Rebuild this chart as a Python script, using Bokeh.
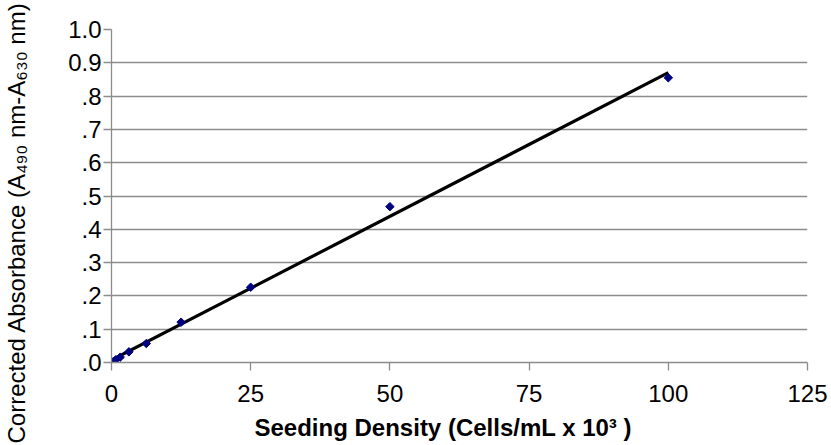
import numpy as np
from bokeh.plotting import figure
from bokeh.models import Range1d, FixedTicker, Title
from bokeh.embed import file_html
from bokeh.resources import INLINE

# Data
seeding_density = [0, 0.78, 1.56, 3.125, 6.25, 12.5, 25, 50, 100]
absorbance = [0.002, 0.008, 0.016, 0.032, 0.057, 0.121, 0.226, 0.468, 0.855]

x_ticks = [0, 25, 50, 75, 100, 125]
y_ticks = [0, 0.1, 0.2, 0.3, 0.4, 0.5, 0.6, 0.7, 0.8, 0.9, 1]
y_tick_labels = [".0", ".1", ".2", ".3", ".4", ".5", ".6", ".7", ".8", "0.9", "1.0"]

x_title = "Seeding Density (Cells/mL x 10\u00b3 )"
y_title = "Corrected Absorbance (A\u2084\u2089\u2080 nm-A\u2086\u2083\u2080 nm)"

# Linear trendline (least squares) over the data range
slope, intercept = np.polyfit(seeding_density, absorbance, 1)
fit_x = [min(seeding_density), max(seeding_density)]
fit_y = [slope * v + intercept for v in fit_x]

FONT = "Liberation Sans"
GRID = "#8c8c8c"

p = figure(width=831, height=445, output_backend="svg", toolbar_location=None,
           x_range=Range1d(0, 125), y_range=Range1d(0, 1),
           min_border_left=111, min_border_right=24,
           min_border_top=29, min_border_bottom=83)
p.outline_line_color = None
p.background_fill_color = "white"
p.border_fill_color = "white"

p.xgrid.visible = False
p.ygrid.grid_line_color = GRID
p.ygrid.grid_line_width = 1.3

p.xaxis.ticker = FixedTicker(ticks=x_ticks)
p.yaxis.ticker = FixedTicker(ticks=y_ticks)
p.yaxis.major_label_overrides = dict(zip(y_ticks, y_tick_labels))

for ax in (p.xaxis, p.yaxis):
    ax.axis_line_color = GRID
    ax.axis_line_width = 1.3
    ax.major_tick_line_color = GRID
    ax.major_tick_line_width = 1.3
    ax.major_tick_out = 8
    ax.major_tick_in = 0
    ax.minor_tick_line_color = None
    ax.major_label_text_font = FONT
    ax.major_label_text_font_size = "24px"
    ax.major_label_text_color = "black"

p.xaxis.major_label_standoff = 14
p.yaxis.major_label_standoff = 2

# tiny blank spacers so the titles sit where the reference has them
p.yaxis.axis_label = " "
p.yaxis.axis_label_text_font_size = "1px"
p.yaxis.axis_label_standoff = 32
p.xaxis.axis_label = " "
p.xaxis.axis_label_text_font_size = "1px"
p.xaxis.axis_label_standoff = 1

# Axis titles as side-panel titles so they can sit off-centre like the reference
p.add_layout(Title(text=x_title, align="left", offset=143, standoff=5,
                   vertical_align="bottom", text_font=FONT,
                   text_font_size="24px", text_font_style="bold",
                   text_color="black"), "below")
p.add_layout(Title(text=y_title, align="left", offset=-81, standoff=0,
                   vertical_align="bottom", text_font=FONT,
                   text_font_size="24px", text_font_style="normal",
                   text_color="black"), "left")

# Trendline then markers on top
p.line(fit_x, fit_y, line_color="black", line_width=3.2)
p.scatter(seeding_density, absorbance, marker="square", angle=np.pi / 4,
          size=6, fill_color="#000080", line_color="#000080")

open("out.html", "w").write(file_html(p, INLINE))
